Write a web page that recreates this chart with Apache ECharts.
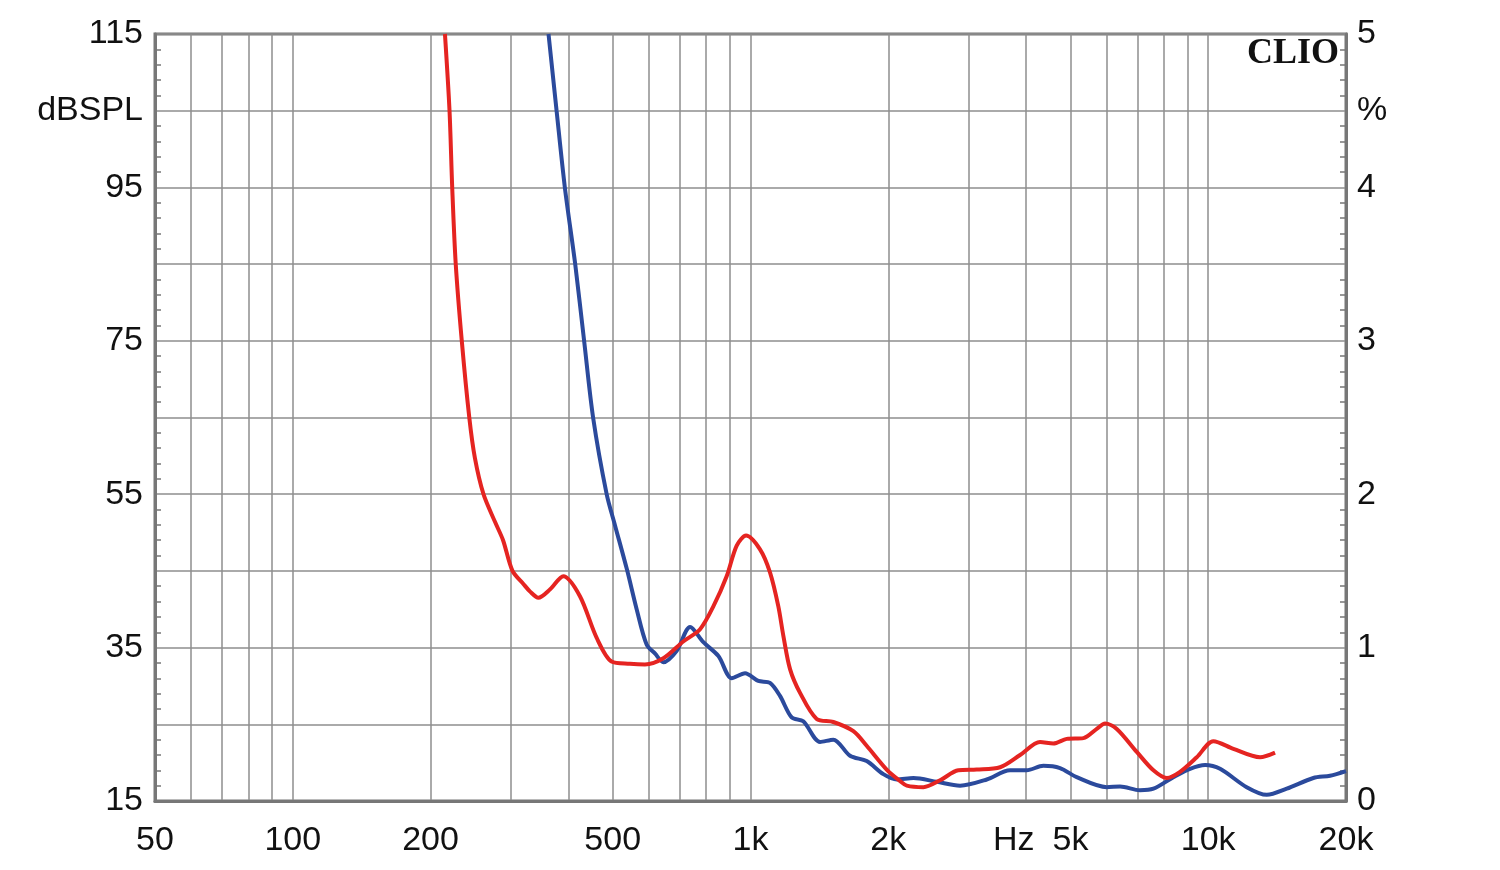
<!DOCTYPE html>
<html><head><meta charset="utf-8">
<script src="https://cdn.jsdelivr.net/npm/echarts@6/dist/echarts.min.js"></script>
<style>html,body{margin:0;padding:0;background:#fff}#c{width:1500px;height:870px}</style>
</head><body><div id="c"></div>
<script>
// Red curve (frequency in Hz, level in dBSPL)
const redFreq = [215,220,223,227,234,243,250,261,277,288,302,319,330,344,365,390,424,461,497,545,588,645,713,776,830,887,933,978,1049,1103,1150,1180,1220,1283,1395,1517,1678,1794,1984,2122,2195,2386,2595,2845,3121,3510,3881,4291,4588,4907,5337,5708,5952,6313,6981,7591,8120,8679,9441,10262,11348,12978,13996];
const redDb   = [115,105,95,85,75,65,59.7,55,51.3,49,45,43.3,42.3,41.5,42.6,44.3,41.7,36.3,33.2,32.9,32.8,33.6,35.8,37.4,40.4,44.3,48.3,49.6,47.8,44.8,40.4,36.5,32.2,29.1,25.7,25.3,24.1,22.2,19.1,17.6,17.0,16.8,17.7,19.0,19.1,19.4,21.0,22.7,22.5,23.1,23.2,24.4,25.1,24.4,21.4,19.0,18.0,18.8,20.7,22.8,21.8,20.7,21.3];
// Blue curve
const blueFreq = [362,377,393,414,433,453,485,506,537,564,593,619,645,690,738,789,851,910,973,1040,1103,1160,1230,1304,1419,1517,1650,1794,1951,2087,2270,2553,2870,3282,3690,4013,4363,4745,5161,6001,6418,7094,7591,8392,9127,9843,10614,12136,13424,14843,16970,18460,20000];
const blueDb   = [115,105,95,85,75,65,55,50.9,45.2,40,35.4,34.2,33.1,34.6,37.7,35.7,33.9,31,31.65,30.65,30.4,28.7,25.9,25.4,22.7,23.0,20.9,20.2,18.5,17.8,18.0,17.5,17.0,17.8,19.0,19.0,19.6,19.3,18.1,16.8,16.9,16.4,16.6,18.1,19.2,19.7,19.2,16.8,15.8,16.6,18.0,18.3,18.9];

// Axes
const xGridFreqs = [60,70,80,90,100,200,300,400,500,600,700,800,900,1000,2000,3000,4000,5000,6000,7000,8000,9000,10000];
const xLabelFreqs = [50,100,200,500,1000,2000,3760,5000,10000,20000];
const xLabelTexts = ['50','100','200','500','1k','2k','Hz','5k','10k','20k'];
const leftLabelValues = [15,35,55,75,95,105,115];
const leftLabelTexts  = ['15','35','55','75','95','dBSPL','115'];
const rightLabelValues = [0,1,2,3,4,4.5,5];
const rightLabelTexts  = ['0','1','2','3','4','%','5'];

const lg = Math.log10;
const toPts = (f, v) => f.map((x, i) => [lg(x), v[i]]);
const FONT = 'Liberation Sans, Arial, sans-serif';
const frame = '#777777', gridC = '#8e8e8e';

const chart = echarts.init(document.getElementById('c'), null, {renderer: 'canvas'});
chart.setOption({
  animation: false,
  backgroundColor: '#ffffff',
  grid: {left: 155, right: 154, top: 34, bottom: 69, show: true, borderColor: frame, borderWidth: 3, backgroundColor: 'transparent'},
  xAxis: {
    type: 'value', min: lg(50), max: lg(20000),
    axisLine: {show: true, lineStyle: {color: frame, width: 3}},
    axisTick: {show: false, customValues: xGridFreqs.map(lg)},
    splitLine: {show: true, lineStyle: {color: gridC, width: 1.5}},
    axisLabel: {
      customValues: xLabelFreqs.map(lg), margin: 23,
      fontFamily: FONT, fontSize: 34, color: '#111',
      formatter: v => {
        let best = 0, bd = 1e9;
        xLabelFreqs.forEach((f, i) => { const d = Math.abs(lg(f) - v); if (d < bd) { bd = d; best = i; } });
        return xLabelTexts[best];
      }
    }
  },
  yAxis: [{
    type: 'value', min: 15, max: 115, interval: 10, position: 'left',
    axisLine: {show: true, lineStyle: {color: frame, width: 3}},
    axisTick: {show: false, inside: true},
    minorTick: {show: true, splitNumber: 5, length: 6, lineStyle: {color: frame, width: 1.5}},
    splitLine: {show: true, lineStyle: {color: gridC, width: 1.5}},
    axisLabel: {
      margin: 12, fontFamily: FONT, fontSize: 34, color: '#111',
      formatter: v => { const i = leftLabelValues.findIndex(t => Math.abs(t - v) < 1e-6); return i >= 0 ? leftLabelTexts[i] : ''; }
    }
  }, {
    type: 'value', min: 0, max: 5, interval: 0.5, position: 'right',
    axisLine: {show: true, lineStyle: {color: frame, width: 3}},
    axisTick: {show: false, inside: true},
    minorTick: {show: true, splitNumber: 5, length: 6, lineStyle: {color: frame, width: 1.5}},
    splitLine: {show: false},
    axisLabel: {
      margin: 11, fontFamily: FONT, fontSize: 34, color: '#111',
      formatter: v => { const i = rightLabelValues.findIndex(t => Math.abs(t - v) < 1e-6); return i >= 0 ? rightLabelTexts[i] : ''; }
    }
  }],
  series: [
    {type: 'line', name: 'blue', data: toPts(blueFreq, blueDb), showSymbol: false, smooth: 0.3,
     lineStyle: {color: '#2b4a9c', width: 4}, clip: true, z: 3},
    {type: 'line', name: 'red', data: toPts(redFreq, redDb), showSymbol: false, smooth: 0.3,
     lineStyle: {color: '#e52421', width: 4}, clip: true, z: 4}
  ],
  graphic: [{
    type: 'text', right: 161, top: 36,
    style: {text: 'CLIO', font: 'bold 36px "Liberation Serif", "DejaVu Serif", serif', fill: '#111'}
  }]
});
</script></body></html>
